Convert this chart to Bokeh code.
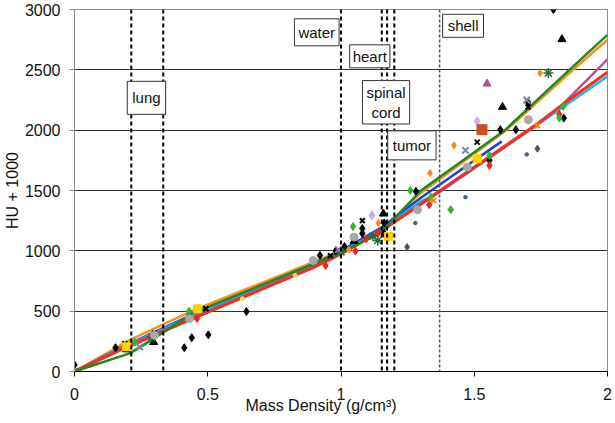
import math
from bokeh.plotting import figure
from bokeh.models import Span, Label, FixedTicker, Range1d
from bokeh.embed import file_html
from bokeh.resources import INLINE

# ---------------- data ----------------
x_ticks = [0, 0.5, 1, 1.5, 2]
x_tick_labels = ["0", "0.5", "1", "1.5", "2"]
y_ticks = [0, 500, 1000, 1500, 2000, 2500, 3000]
grid_ticks = [500, 1000, 1500, 2000, 2500]

organ_x = [0.213, 0.333, 1.0, 1.153, 1.173, 1.2]
shell_x = [1.37]

# fitted calibration curves
orange_x = [0, 0.22, 0.45, 0.9, 1.0, 1.15, 1.3, 1.62, 1.86, 2.0]
orange_y = [0, 275, 510, 910, 1000, 1170, 1480, 2000, 2480, 2750]
green_x = [0, 0.207, 0.245, 0.45, 0.9, 1.0, 1.15, 1.3, 1.615, 1.857, 2.0]
green_y = [0, 150, 200, 490, 895, 985, 1150, 1500, 2000, 2500, 2790]
blue_x = [0, 0.2, 0.45, 0.9, 1.0, 1.15, 1.3, 1.603]
blue_y = [0, 225, 480, 890, 1000, 1190, 1440, 1907]
cyan_x = [0, 0.2, 0.45, 0.9, 1.0, 1.15, 1.3, 1.37, 2.0]
cyan_y = [0, 220, 470, 880, 985, 1175, 1410, 1485, 2446]
mauve_x = [0, 0.2, 0.45, 0.9, 1.0, 1.15, 1.3, 1.74, 1.83, 2.0]
mauve_y = [0, 215, 455, 875, 980, 1160, 1385, 2050, 2210, 2587]
red_x = [0, 0.2, 0.45, 0.9, 1.0, 1.15, 1.3, 1.74, 1.83, 2.0]
red_y = [0, 205, 445, 865, 975, 1165, 1390, 2058, 2210, 2480]

# measured points
blk_dia_x = [0.0, 0.154, 0.412, 0.44, 0.502, 0.645, 0.921, 0.98, 1.013, 1.08, 1.08, 1.162, 1.162, 1.281, 1.557, 1.598, 1.656, 1.702, 1.797, 1.836]
blk_dia_y = [55, 197, 197, 280, 304, 497, 962, 1000, 1036, 1185, 1144, 1144, 1230, 1493, 1750, 2004, 2004, 2230, 3000, 2100]
blk_tri_x = [0.195, 0.297, 1.049, 1.159, 1.606, 1.829]
blk_tri_y = [182, 243, 1080, 1308, 2192, 2753]
blk_x_x = [0.189, 0.3, 0.493, 0.431, 1.08, 1.511, 1.702, 0.96]
blk_x_y = [230, 318, 520, 484, 1250, 1901, 2192, 960]
dkg_ast_x = [0.0, 1.138, 1.778, 1.0, 0.29, 1.12]
dkg_ast_y = [0, 1086, 2473, 990, 285, 1120]
lav_x_x = [0.245, 1.467, 1.697, 0.44, 0.99]
lav_x_y = [202, 1833, 2250, 455, 1010]
org_dot_x = [1.334, 1.424, 1.747, 1.03, 1.14]
org_dot_y = [1644, 1874, 2473, 1010, 1230]
red_dia_x = [0.942, 1.054, 1.095, 1.331, 1.557, 1.819, 0.46, 1.14]
red_dia_y = [879, 998, 1100, 1382, 1708, 2131, 440, 1150]
gray_cir_x = [0.896, 0.431, 1.049, 1.287, 1.474, 1.703, 0.3]
gray_cir_y = [920, 440, 1114, 1341, 1694, 2087, 300]
lav_dia_x = [1.116, 1.511]
lav_dia_y = [1294, 2073]
yel_sq_x = [0.462, 0.195, 1.178, 1.511]
yel_sq_y = [520, 205, 1119, 1763]
yel_sm_x = [1.408, 0.63, 0.828]
yel_sm_y = [1343, 603, 796]
grn_dia_x = [0.226, 0.43, 1.045, 1.26, 1.337, 1.557, 1.819, 1.834, 1.412, 0.0]
grn_dia_y = [243, 500, 1202, 1501, 1445, 1790, 2100, 2197, 1341, 0]
blu_dot_x = [1.279, 1.467, 1.697]
blu_dot_y = [1230, 1445, 1799]
dgr_dia_x = [1.248, 1.737]
dgr_dia_y = [1031, 1846]
ored_sq_x = [1.529]
ored_sq_y = [2004]
mauve_tri_x = [1.548]
mauve_tri_y = [2385]
org_x_x = [1.347, 1.737]
org_x_y = [1418, 2037]

FONT = "Liberation Sans"

p = figure(width=615, height=423, output_backend="svg", toolbar_location=None,
           x_range=Range1d(0, 2), y_range=Range1d(0, 3000),
           min_border_left=71, min_border_right=8, min_border_top=9, min_border_bottom=52)
p.background_fill_color = "white"
p.border_fill_color = "white"
p.outline_line_color = "#8a8a8a"
p.outline_line_width = 1

# axes
p.xaxis.ticker = FixedTicker(ticks=x_ticks)
p.xaxis.major_label_overrides = {t: l for t, l in zip(x_ticks, x_tick_labels)}
p.xaxis.axis_line_color = "black"
p.xaxis.major_tick_line_color = "black"
p.xaxis.major_tick_out = 5
p.xaxis.major_tick_in = 0
p.xaxis.minor_tick_line_color = None
p.xaxis.major_label_standoff = 11
p.xaxis.major_label_text_font = FONT
p.xaxis.major_label_text_font_size = "16px"
p.xaxis.major_label_text_color = "#111111"
# trailing no-break spaces shift the centred title left, as in the original
p.xaxis.axis_label = "Mass Density (g/cm³)" + "\u00a0" * 9
p.xaxis.axis_label_standoff = -6
p.xaxis.axis_label_text_font = FONT
p.xaxis.axis_label_text_font_size = "16px"
p.xaxis.axis_label_text_font_style = "normal"
p.xaxis.axis_label_text_color = "#111111"

p.yaxis.ticker = FixedTicker(ticks=y_ticks)
p.yaxis.axis_line_color = "#8a8a8a"
p.yaxis.major_tick_line_color = "#8a8a8a"
p.yaxis.major_tick_out = 5
p.yaxis.major_tick_in = 0
p.yaxis.minor_tick_line_color = None
p.yaxis.major_label_standoff = 9
p.yaxis.major_label_text_font = FONT
p.yaxis.major_label_text_font_size = "16px"
p.yaxis.major_label_text_color = "#111111"
p.yaxis.axis_label = "HU + 1000"
p.yaxis.axis_label_standoff = 1
p.yaxis.axis_label_text_font = FONT
p.yaxis.axis_label_text_font_size = "16px"
p.yaxis.axis_label_text_font_style = "normal"
p.yaxis.axis_label_text_color = "#111111"

p.xgrid.grid_line_color = None
p.ygrid.ticker = FixedTicker(ticks=grid_ticks)
p.ygrid.grid_line_color = "#333333"
p.ygrid.grid_line_width = 1

# organ boundaries
for xv in organ_x:
    p.add_layout(Span(location=xv, dimension="height", line_color="black",
                      line_dash="4 3", line_width=2))
for xv in shell_x:
    p.add_layout(Span(location=xv, dimension="height", line_color="#555555",
                      line_dash="3 2", line_width=1.5))

# fitted curves
p.line(orange_x, orange_y, line_color="#F7901E", line_width=2.5)
p.line(blue_x, blue_y, line_color="#1F3FD8", line_width=2.5)
p.line(cyan_x, cyan_y, line_color="#22B4EE", line_width=2.5)
p.line(mauve_x, mauve_y, line_color="#B0558E", line_width=2.5)
p.line(red_x, red_y, line_color="#E8322A", line_width=3)
p.line(green_x, green_y, line_color="#1E8A1E", line_width=2.5)

# measured points
p.scatter(blk_dia_x, blk_dia_y, marker="diamond", size=8, color="black")
p.scatter(blk_tri_x, blk_tri_y, marker="triangle", size=8, color="black")
p.scatter(blk_x_x, blk_x_y, marker="x", size=7, line_color="black", line_width=2)
p.scatter(dkg_ast_x, dkg_ast_y, marker="asterisk", size=10, line_color="#2E6B3A", line_width=1.5)
p.scatter(lav_x_x, lav_x_y, marker="x", size=9, line_color="#8080A8", line_width=2)
p.scatter(org_dot_x, org_dot_y, marker="diamond", size=7, color="#F7871E")
p.scatter(red_dia_x, red_dia_y, marker="diamond", size=8, color="#E8291C")
p.scatter(gray_cir_x, gray_cir_y, marker="circle", size=8, color="#A8A8A8")
p.scatter(lav_dia_x, lav_dia_y, marker="diamond", size=9, color="#C9A9F2")
p.scatter(yel_sq_x, yel_sq_y, marker="square", size=8, color="#FFD200")
p.scatter(yel_sm_x, yel_sm_y, marker="circle", size=4, color="#F5E050")
p.scatter(grn_dia_x, grn_dia_y, marker="diamond", size=8, color="#2DB82D")
p.scatter(blu_dot_x, blu_dot_y, marker="circle", size=3.5, color="#3A5AA8")
p.scatter(dgr_dia_x, dgr_dia_y, marker="diamond", size=7, color="#505050")
p.scatter(ored_sq_x, ored_sq_y, marker="square_x", size=10, fill_color="#D9481A",
          line_color="#B06030", line_width=1)
p.scatter(mauve_tri_x, mauve_tri_y, marker="triangle", size=8, color="#B0508A")
p.scatter(org_x_x, org_x_y, marker="x", size=7, line_color="#F7871E", line_width=2)

# organ labels
box_style = dict(text_font=FONT, text_font_size="15px", text_color="#111111",
                 background_fill_color="white", border_line_color="#333333",
                 border_line_width=1, text_baseline="middle")
p.add_layout(Label(x=0.270, y=2268, text="lung", text_align="center", padding=(5, 8), **box_style))
p.add_layout(Label(x=0.909, y=2811, text="water", text_align="center", padding=(4, 5), **box_style))
p.add_layout(Label(x=1.108, y=2612, text="heart", text_align="center", padding=(3, 3), **box_style))
p.add_layout(Label(x=1.169, y=2231, text="spinal\ncord", text_align="center", padding=(4, 3), **box_style))
p.add_layout(Label(x=1.266, y=1874, text="tumor", text_align="center", padding=(5, 6), **box_style))
p.add_layout(Label(x=1.458, y=2865, text="shell", text_align="center", padding=(5, 3), **box_style))

open("out.html", "w").write(file_html(p, INLINE))
